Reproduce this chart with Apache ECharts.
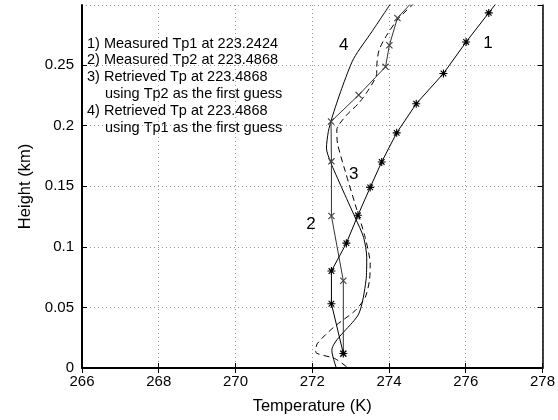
<!DOCTYPE html>
<html><head><meta charset="utf-8">
<script src="https://cdn.jsdelivr.net/npm/echarts@6/dist/echarts.min.js"></script>
<style>html,body{margin:0;padding:0;background:#fff}#c{width:558px;height:420px}</style>
</head><body><div id="c"></div>
<script>
// Axis ticks
const xTicks = [266, 268, 270, 272, 274, 276, 278];
const yTicks = [0, 0.05, 0.1, 0.15, 0.2, 0.25];

// 1) Measured Tp1 (asterisks)
const tp1Height = [0.012, 0.053, 0.080, 0.103, 0.126, 0.149, 0.170, 0.194, 0.218, 0.243, 0.269, 0.293, 0.317];
const tp1Temp   = [272.81, 272.50, 272.50, 272.89, 273.19, 273.51, 273.81, 274.20, 274.71, 275.42, 276.01, 276.60, 277.19];

// 2) Measured Tp2 (x markers)
const tp2Height = [0.0117, 0.072, 0.1254, 0.1705, 0.2034, 0.2252, 0.2485, 0.2663, 0.2888, 0.311];
const tp2Temp   = [272.81, 272.81, 272.50, 272.50, 272.49, 273.21, 273.91, 274.01, 274.22, 274.87];

// 3) Retrieved using Tp2 as first guess (dashed)
const ret2Height = [-0.004, 0.0076, 0.0132, 0.020, 0.0337, 0.0474, 0.0583, 0.0720, 0.0856, 0.1076, 0.1349, 0.1623, 0.1850, 0.1965, 0.2088, 0.2184, 0.2293, 0.2430, 0.2471, 0.2622, 0.2745, 0.2882, 0.3010];
const ret2Temp   = [273.10, 272.60, 272.09, 272.13, 272.56, 273.12, 273.38, 273.49, 273.51, 273.38, 273.12, 272.86, 272.66, 272.64, 272.90, 273.21, 273.46, 273.68, 273.68, 273.74, 273.94, 274.24, 274.66];

// 4) Retrieved using Tp1 as first guess (solid)
const ret1Height = [-0.004, 0.0145, 0.0446, 0.0720, 0.0911, 0.1076, 0.1240, 0.1486, 0.1705, 0.1814, 0.1952, 0.2061, 0.2307, 0.2553, 0.2773, 0.3010];
const ret1Temp   = [272.67, 272.51, 273.21, 273.40, 273.42, 273.34, 273.12, 272.77, 272.47, 272.37, 272.42, 272.51, 272.77, 273.08, 273.55, 274.05];

// Curve number labels [text, T, h]
const curveLabels = [['1', 276.58, 0.2677], ['4', 272.82, 0.266], ['3', 273.08, 0.1595], ['2', 271.97, 0.1185]];

// Legend text lines
const noteLines = [
  '1) Measured Tp1 at 223.2424',
  '2) Measured Tp2 at 223.4868',
  '3) Retrieved Tp at 223.4868',
  'using Tp2 as the first guess',
  '4) Retrieved Tp at 223.4868',
  'using Tp1 as the first guess'
];
const noteIndent = [0, 0, 0, 1, 0, 1];

const zip = (t, h) => t.map((v, i) => [v, h[i]]);
const FONT = '"Liberation Sans", Arial, Helvetica, sans-serif';

const starPath = 'path://M4.3,0L5.7,0L5.7,10L4.3,10Z M0,4.3L10,4.3L10,5.7L0,5.7Z M1.0,2.0L2.0,1.0L9.0,8.0L8.0,9.0Z M8.0,1.0L9.0,2.0L2.0,9.0L1.0,8.0Z';
const xPath = 'path://M0.7,1.7L1.7,0.7L9.3,8.3L8.3,9.3Z M8.3,0.7L9.3,1.7L1.7,9.3L0.7,8.3Z';

const chart = echarts.init(document.getElementById('c'), null, {renderer: 'canvas'});
const xMin = xTicks[0], xMax = xTicks[xTicks.length - 1], xInt = xTicks[1] - xTicks[0];
const yMin = yTicks[0], yMax = 0.2995, yInt = yTicks[1] - yTicks[0];
const gridLine = {show: true, lineStyle: {color: '#999', type: [1, 3], width: 1}};

const option = {
  animation: false,
  backgroundColor: '#fff',
  grid: {left: 82, right: 13, top: 5, bottom: 49, show: false, containLabel: false},
  xAxis: [{
    type: 'value', min: xMin, max: xMax, interval: xInt,
    name: 'Temperature (K)', nameLocation: 'middle', nameGap: 30,
    nameTextStyle: {fontFamily: FONT, fontSize: 16.5, color: '#000'},
    axisLine: {lineStyle: {color: '#000', width: 2}},
    axisTick: {inside: true, length: 5, lineStyle: {color: '#000'}},
    axisLabel: {fontFamily: FONT, fontSize: 15, color: '#000', margin: 6},
    splitLine: gridLine
  }, {
    type: 'value', position: 'top', min: xMin, max: xMax, interval: xInt,
    axisLine: {show: true, lineStyle: {color: '#000', width: 1.5}},
    axisTick: {show: true, inside: true, length: 5, lineStyle: {color: '#000'}},
    axisLabel: {show: false}, splitLine: {show: false}
  }],
  yAxis: [{
    type: 'value', min: yMin, max: yMax, interval: yInt,
    name: 'Height (km)', nameLocation: 'middle', nameGap: 47,
    nameTextStyle: {fontFamily: FONT, fontSize: 16.5, color: '#000'},
    axisLine: {lineStyle: {color: '#000', width: 2}},
    axisTick: {inside: true, length: 5, lineStyle: {color: '#000'}},
    axisLabel: {fontFamily: FONT, fontSize: 15, color: '#000', margin: 8, showMaxLabel: false,
      formatter: v => (Math.round(v * 100) / 100).toString()},
    splitLine: gridLine
  }, {
    type: 'value', position: 'right', min: yMin, max: yMax, interval: yInt,
    axisLine: {show: true, lineStyle: {color: '#000', width: 1.5}},
    axisTick: {show: true, inside: true, length: 5, lineStyle: {color: '#000'}},
    axisLabel: {show: false}, splitLine: {show: false}
  }],
  series: [
    {type: 'line', data: zip(tp1Temp, tp1Height), clip: true, symbol: starPath, symbolSize: 8,
     lineStyle: {color: '#000', width: 1}, itemStyle: {color: '#000'}, z: 5},
    {type: 'line', data: zip(tp2Temp, tp2Height), clip: true, symbol: xPath, symbolSize: 7,
     lineStyle: {color: '#333', width: 1}, itemStyle: {color: '#444'}, z: 4},
    {type: 'line', data: zip(ret2Temp, ret2Height), clip: true, symbol: 'none', smooth: 0.25,
     lineStyle: {color: '#000', width: 1, type: [6, 4]}, z: 3},
    {type: 'line', data: zip(ret1Temp, ret1Height), clip: true, symbol: 'none', smooth: 0.25,
     lineStyle: {color: '#000', width: 1}, z: 3}
  ]
};
chart.setOption(option);

const graphics = [];
curveLabels.forEach(([txt, t, h]) => {
  const p = chart.convertToPixel({xAxisIndex: 0, yAxisIndex: 0}, [t, h]);
  graphics.push({type: 'text', x: p[0], y: p[1], style: {text: txt, font: '17px ' + FONT, fill: '#000', textAlign: 'center', textVerticalAlign: 'middle'}});
});
noteLines.forEach((line, i) => {
  graphics.push({type: 'text', x: 87 + noteIndent[i] * 18, y: 43.5 + i * 16.85,
    style: {text: line, font: '14.5px ' + FONT, fill: '#000', textAlign: 'left', textVerticalAlign: 'middle'}});
});
chart.setOption({graphic: graphics});
</script>
</body></html>
